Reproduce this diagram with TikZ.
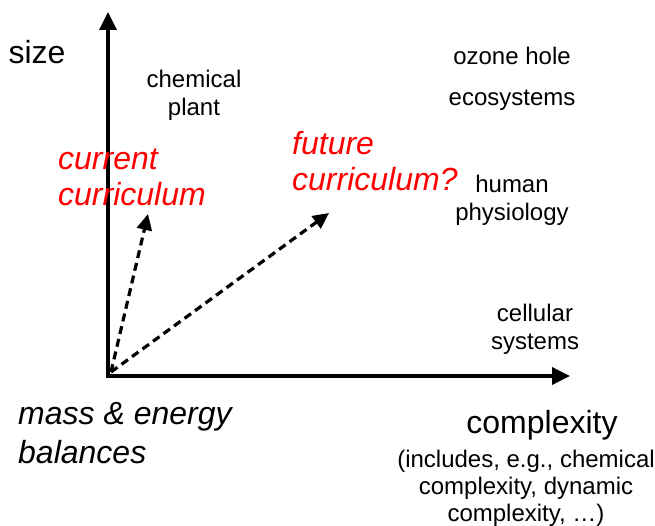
\documentclass[tikz,border=0pt]{standalone}
\usepackage{fontspec}
\setmainfont{Liberation Sans}
\usetikzlibrary{arrows.meta,calc}
\begin{document}
\begin{tikzpicture}[x=1pt,y=-1pt,
  small/.style={font=\fontsize{24}{28}\selectfont, inner sep=0pt, align=center},
  big/.style={font=\fontsize{32}{36}\selectfont, inner sep=0pt},
  redlab/.style={big, text=red, font=\fontsize{32}{36}\selectfont\itshape, align=left, anchor=west},
  axis/.style={line width=3.5pt, -{Triangle[width=17pt,length=18pt]}},
  vec/.style={line width=3.2pt, dash pattern=on 8pt off 5pt, -{Triangle[width=15pt,length=16pt]}}]
\useasboundingbox (0,0) rectangle (655,526);
\coordinate (O) at (108,376);
\coordinate (ytip) at (108,12);
\coordinate (xtip) at (570,376);
\draw[axis] ($(O)+(0,1.75)$) -- (ytip);
\draw[axis] ($(O)+(-1.75,0)$) -- (xtip);
\coordinate (vs) at (111,372);
\coordinate (ctip) at (148,214);
\coordinate (ftip) at (329,213);
\draw[vec] (vs) -- (ctip);
\draw[vec] (vs) -- (ftip);
\node[big] (size) at (37,52) {size};
\node[small] (chem) at (194,95) {chemical\\plant};
\node[small] (ozone) at (512,56) {ozone hole};
\node[small] (eco) at (512,100) {ecosystems};
\node[small] (human) at (512,200) {human\\physiology};
\node[small] (cell) at (535,329) {cellular\\systems};
\node[redlab] (cur) at (58,177) {current\\curriculum};
\node[redlab] (fut) at (292,161) {future\\curriculum?};
\node[big, font=\fontsize{32}{39}\selectfont\itshape, align=left, anchor=west] (mass) at (18,433) {mass \& energy\\balances};
\node[big] (cx) at (542,425) {complexity};
\node[small, font=\fontsize{24}{27}\selectfont] (incl) at (526,488) {(includes, e.g., chemical\\complexity, dynamic\\complexity, …)};
\end{tikzpicture}
\end{document}
